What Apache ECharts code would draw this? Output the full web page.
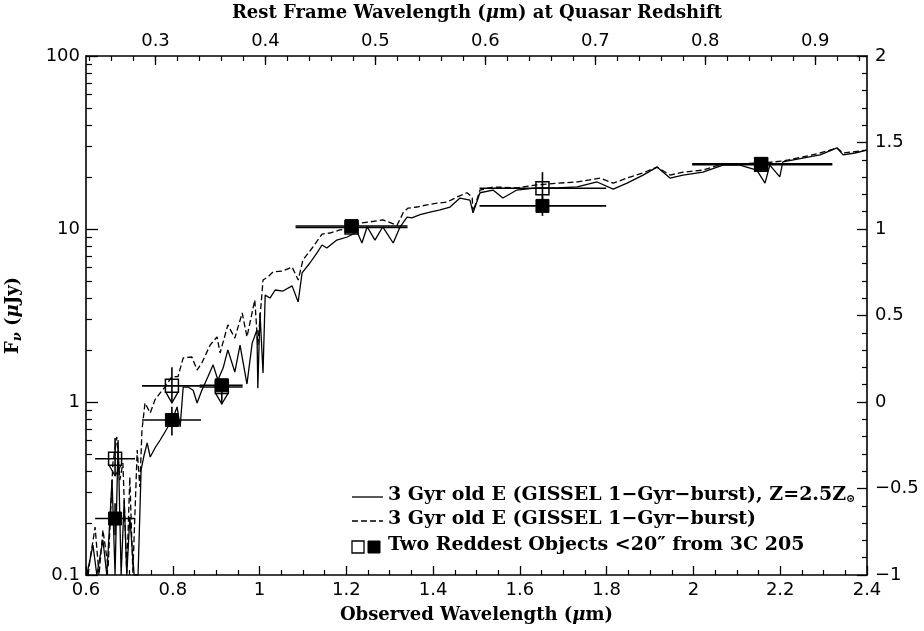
<!DOCTYPE html>
<html>
<head>
<meta charset="utf-8">
<script src="https://cdn.jsdelivr.net/npm/echarts@6/dist/echarts.min.js"></script>
<style>html,body{margin:0;padding:0;background:#fff;}#c{width:924px;height:631px;}</style>
</head>
<body>
<div id="c"></div>
<script>
// ---- Model spectra (observed wavelength in µm, Fν in µJy) ----
const solidX = [0.602,0.616,0.625,0.639,0.648,0.660,0.667,0.674,0.681,0.688,0.694,0.701,0.711,0.720,0.727,0.734,0.741,0.748,0.759,0.771,0.782,0.794,0.803,0.810,0.817,0.824,0.835,0.847,0.856,0.867,0.881,0.893,0.904,0.916,0.927,0.943,0.955,0.971,0.983,0.994,0.996,1.001,1.008,1.013,1.024,1.036,1.054,1.075,1.089,1.098,1.116,1.132,1.144,1.155,1.178,1.202,1.225,1.236,1.248,1.266,1.284,1.308,1.324,1.340,1.351,1.370,1.393,1.416,1.439,1.462,1.485,1.492,1.508,1.538,1.561,1.593,1.639,1.686,1.732,1.778,1.815,1.847,1.884,1.916,1.946,1.976,2.022,2.068,2.107,2.146,2.165,2.176,2.199,2.206,2.252,2.292,2.331,2.345,2.372,2.400];
const solidY = [0.100,0.149,0.100,0.159,0.100,0.354,0.100,0.603,0.100,0.271,0.100,0.216,0.100,0.100,0.405,0.494,0.580,0.481,0.542,0.603,0.671,0.756,0.841,0.936,0.717,1.22,1.22,1.17,0.987,1.17,1.40,1.64,1.34,1.57,2.00,1.49,2.13,1.27,2.19,2.61,1.20,3.27,1.47,4.15,3.99,4.44,4.38,4.69,3.79,5.57,6.36,7.26,8.08,7.76,8.63,8.99,9.61,8.30,10.3,8.63,10.3,8.30,10.3,11.7,11.6,12.1,12.5,12.9,13.4,15.1,14.7,12.4,16.2,16.8,15.1,16.8,17.3,17.3,17.5,18.7,17.0,18.4,20.5,22.8,19.7,20.5,21.3,23.4,23.4,21.9,18.4,23.4,20.0,24.4,25.7,26.8,29.4,26.8,27.5,28.6];
const dashX = [0.605,0.609,0.621,0.630,0.639,0.651,0.662,0.671,0.678,0.685,0.694,0.701,0.708,0.718,0.724,0.729,0.736,0.748,0.759,0.771,0.782,0.798,0.812,0.824,0.844,0.856,0.867,0.886,0.902,0.909,0.927,0.943,0.960,0.971,0.989,0.996,1.008,1.019,1.031,1.054,1.075,1.089,1.100,1.123,1.144,1.162,1.185,1.208,1.231,1.255,1.284,1.317,1.331,1.342,1.363,1.386,1.409,1.432,1.455,1.478,1.490,1.492,1.508,1.538,1.593,1.639,1.686,1.732,1.785,1.815,1.847,1.884,1.916,1.946,1.976,2.022,2.068,2.107,2.160,2.206,2.252,2.292,2.331,2.345,2.400];
const dashY = [0.100,0.122,0.189,0.100,0.182,0.111,0.444,0.628,0.354,0.444,0.103,0.368,0.103,0.528,0.323,0.689,0.987,0.864,1.03,1.13,1.22,1.40,1.40,1.80,1.82,1.53,1.68,2.13,2.38,1.92,2.79,2.34,3.27,2.38,3.89,2.13,5.07,5.28,5.64,5.72,6.03,5.07,6.62,7.87,9.35,9.48,9.87,10.1,10.8,11.0,11.3,10.5,12.4,13.2,13.4,13.8,14.1,14.3,15.3,16.2,15.3,12.5,16.8,17.5,17.3,18.0,18.4,18.7,19.7,18.4,19.7,21.1,22.8,20.5,21.3,21.9,23.8,23.8,24.1,24.7,26.1,27.5,29.4,27.5,28.6];

// ---- Photometry of the two reddest objects ----
const openX   = [0.667, 0.798, 0.913, 1.212, 1.652, 2.156];
const openY   = [0.47, 1.24, 1.22, 10.2, 17.2, 23.5];
const openXlo = [0.621, 0.729, 0.862, 1.083, 1.507, 1.997];
const openXhi = [0.713, 0.867, 0.961, 1.341, 1.799, 2.320];
const openYlo = [0, 0, 0, 0, 13.8, 0];
const openYhi = [0.62, 1.59, 0, 0, 21.3, 0];
const openLimit = [1, 1, 1, 0, 0, 0];

const filledX   = [0.667, 0.798, 0.913, 1.212, 1.652, 2.156];
const filledY   = [0.212, 0.787, 1.25, 10.4, 13.6, 23.8];
const filledXlo = [0.621, 0.729, 0.862, 1.083, 1.507, 1.997];
const filledXhi = [0.713, 0.865, 0.961, 1.341, 1.799, 2.320];
const filledYlo = [0.17, 0.64, 0, 0, 11.9, 0];
const filledYhi = [0.26, 0.94, 0, 0, 15.5, 0];
const filledLimit = [0, 0, 0, 0, 0, 0];

// ---- Axis ticks ----
const redshift1 = 2.534;
const restTicks = [0.3,0.4,0.5,0.6,0.7,0.8,0.9];
const restMinor = [];
for (let v = 24; v <= 94; v += 2) restMinor.push(v/100);
const logMinor = [];
[0.1,1,10].forEach(d => { for (let k = 2; k <= 9; k++) logMinor.push(Math.log10(k*d)); });

const FONT = 'DejaVu Serif';
const NUMFONT = 'DejaVu Sans';

const chart = echarts.init(document.getElementById('c'), null, {renderer:'canvas'});

function zip(a, b) { return a.map((v, i) => [v, b[i]]); }
function marks(X, Y, XL, XH, YL, YH, L, F) {
  return X.map((v, i) => [v, Y[i], XL[i], XH[i], YL[i], YH[i], L[i], F]);
}

function renderMark(params, api) {
  const x = api.value(0), y = api.value(1);
  const xlo = api.value(2), xhi = api.value(3);
  const ylo = api.value(4), yhi = api.value(5);
  const lim = api.value(6), filled = api.value(7);
  const c = api.coord([x, y]);
  const pl = api.coord([xlo, y]), ph = api.coord([xhi, y]);
  const st = {stroke:'#000', lineWidth:1.6};
  const ch = [];
  ch.push({type:'line', shape:{x1:pl[0], y1:c[1], x2:ph[0], y2:c[1]}, style:st});
  let top = c[1], bot = c[1];
  if (yhi > 0) top = api.coord([x, yhi])[1];
  if (ylo > 0) bot = api.coord([x, ylo])[1];
  const h = 6.5;
  if (lim) {
    const tip = c[1] + 17;
    bot = tip;
    ch.push({type:'polyline', shape:{points:[[c[0]-6, c[1]+h],[c[0], tip],[c[0]+6, c[1]+h]]}, style:{stroke:'#000', lineWidth:1.3, fill:null}});
  }
  if (top !== bot) ch.push({type:'line', shape:{x1:c[0], y1:top, x2:c[0], y2:bot}, style:st});
  ch.push({type:'rect', shape:{x:c[0]-h, y:c[1]-h, width:2*h, height:2*h},
    style: filled ? {fill:'#000', stroke:'#000', lineWidth:1} : {fill:null, stroke:'#000', lineWidth:1.5}});
  return {type:'group', children:ch};
}

const axisLineStyle = {color:'#000', width:1.6};
const lbl = {color:'#000', fontFamily:NUMFONT, fontSize:18};
const nameRich = {i:{fontFamily:FONT, fontSize:18, fontWeight:'bold', fontStyle:'italic'}};

const option = {
  animation: false,
  backgroundColor: '#fff',
  grid: {left:86, right:57, top:56, bottom:56, containLabel:false, outerBoundsMode:'none'},
  xAxis: [
    {type:'value', position:'bottom', min:0.6, max:2.4, interval:0.2,
     axisLine:{show:true, onZero:false, lineStyle:axisLineStyle}, splitLine:{show:false},
     axisTick:{show:true, inside:true, length:9, lineStyle:{color:'#000', width:1.3}},
     minorTick:{show:true, splitNumber:4, length:5, lineStyle:{color:'#000', width:1.2}},
     axisLabel:Object.assign({margin:6}, lbl),
     name:'Observed Wavelength ({i|μ}m)', nameLocation:'middle', nameGap:31,
     nameTextStyle:{fontFamily:FONT, fontSize:18, fontWeight:'bold', color:'#000', rich:nameRich}},
    {type:'value', position:'top', min:0.6/redshift1, max:2.4/redshift1,
     axisLine:{show:true, onZero:false, lineStyle:axisLineStyle}, splitLine:{show:false},
     axisTick:{show:true, inside:true, length:9, customValues:restTicks, lineStyle:{color:'#000', width:1.3}},
     axisLabel:Object.assign({margin:6, customValues:restTicks, formatter:v => String(+v.toFixed(1))}, lbl)},
    {type:'value', position:'top', min:0.6/redshift1, max:2.4/redshift1,
     axisLine:{show:false, onZero:false}, splitLine:{show:false},
     axisTick:{show:true, inside:true, length:5, customValues:restMinor, lineStyle:{color:'#000', width:1.2}},
     axisLabel:{show:false}}
  ],
  yAxis: [
    {type:'log', logBase:10, position:'left', min:0.1, max:100,
     axisLine:{show:true, onZero:false, lineStyle:axisLineStyle}, splitLine:{show:false},
     axisTick:{show:true, inside:true, length:12, lineStyle:{color:'#000', width:1.3}},
     minorTick:{show:false},
     axisLabel:Object.assign({margin:6, formatter:v => String(v)}, lbl),
     name:'F{s|ν} ({i|μ}Jy)', nameLocation:'middle', nameGap:62,
     nameTextStyle:{fontFamily:FONT, fontSize:18, fontWeight:'bold', color:'#000',
       rich:{s:{fontFamily:FONT, fontSize:13, fontWeight:'bold', fontStyle:'italic', padding:[8,0,0,0]},
             i:{fontFamily:FONT, fontSize:18, fontWeight:'bold', fontStyle:'italic'}}}},
    {type:'value', position:'left', min:-1, max:2,
     axisLine:{show:false, onZero:false}, splitLine:{show:false},
     axisTick:{show:true, inside:true, length:6, customValues:logMinor, lineStyle:{color:'#000', width:1.2}},
     axisLabel:{show:false}},
    {type:'value', position:'right', min:-1, max:2, interval:0.5,
     axisLine:{show:true, onZero:false, lineStyle:axisLineStyle}, splitLine:{show:false},
     axisTick:{show:true, inside:true, length:10, lineStyle:{color:'#000', width:1.3}},
     minorTick:{show:true, splitNumber:5, length:5, lineStyle:{color:'#000', width:1.2}},
     axisLabel:Object.assign({margin:8, formatter:v => String(v).replace('-', '\u2212')}, lbl)}
  ],
  series: [
    {type:'line', name:'Z=2.5', xAxisIndex:0, yAxisIndex:0, data:zip(solidX, solidY),
     showSymbol:false, symbol:'none', clip:true,
     lineStyle:{color:'#000', width:1.3, type:'solid'}, z:2},
    {type:'line', name:'solar', xAxisIndex:0, yAxisIndex:0, data:zip(dashX, dashY),
     showSymbol:false, symbol:'none', clip:true,
     lineStyle:{color:'#000', width:1.3, type:[6,3]}, z:2},
    {type:'custom', name:'open', xAxisIndex:0, yAxisIndex:0, renderItem:renderMark,
     data:marks(openX, openY, openXlo, openXhi, openYlo, openYhi, openLimit, 0), z:3},
    {type:'custom', name:'filled', xAxisIndex:0, yAxisIndex:0, renderItem:renderMark,
     data:marks(filledX, filledY, filledXlo, filledXhi, filledYlo, filledYhi, filledLimit, 1), z:4}
  ],
  graphic: [
    {type:'text', x:477, y:13, style:{text:'Rest Frame Wavelength ({i|μ}m) at Quasar Redshift',
      font:'bold 18px "DejaVu Serif"', fill:'#000', align:'center', verticalAlign:'middle',
      rich:{i:{font:'italic bold 18px "DejaVu Serif"'}}}},
    {type:'line', shape:{x1:352, y1:497, x2:383, y2:497}, style:{stroke:'#000', lineWidth:1.3}},
    {type:'text', left:388, top:486, style:{text:'3 Gyr old E (GISSEL 1\u2212Gyr\u2212burst), Z=2.5Z{s|⊙}',
      font:'bold 19px "DejaVu Serif"', fill:'#000',
      rich:{s:{font:'bold 11px "DejaVu Serif"', padding:[7,0,0,0]}}}},
    {type:'line', shape:{x1:352, y1:521, x2:383, y2:521}, style:{stroke:'#000', lineWidth:1.3, lineDash:[6,3]}},
    {type:'text', left:388, top:510, style:{text:'3 Gyr old E (GISSEL 1\u2212Gyr\u2212burst)',
      font:'bold 19px "DejaVu Serif"', fill:'#000'}},
    {type:'rect', shape:{x:352, y:541, width:12, height:12}, style:{fill:'#fff', stroke:'#000', lineWidth:1.3}},
    {type:'rect', shape:{x:368, y:541, width:12, height:12}, style:{fill:'#000', stroke:'#000', lineWidth:1}},
    {type:'text', left:388, top:536, style:{text:'Two Reddest Objects <20\u2033 from 3C 205',
      font:'bold 19px "DejaVu Serif"', fill:'#000'}}
  ]
};
chart.setOption(option);
</script>
</body>
</html>
